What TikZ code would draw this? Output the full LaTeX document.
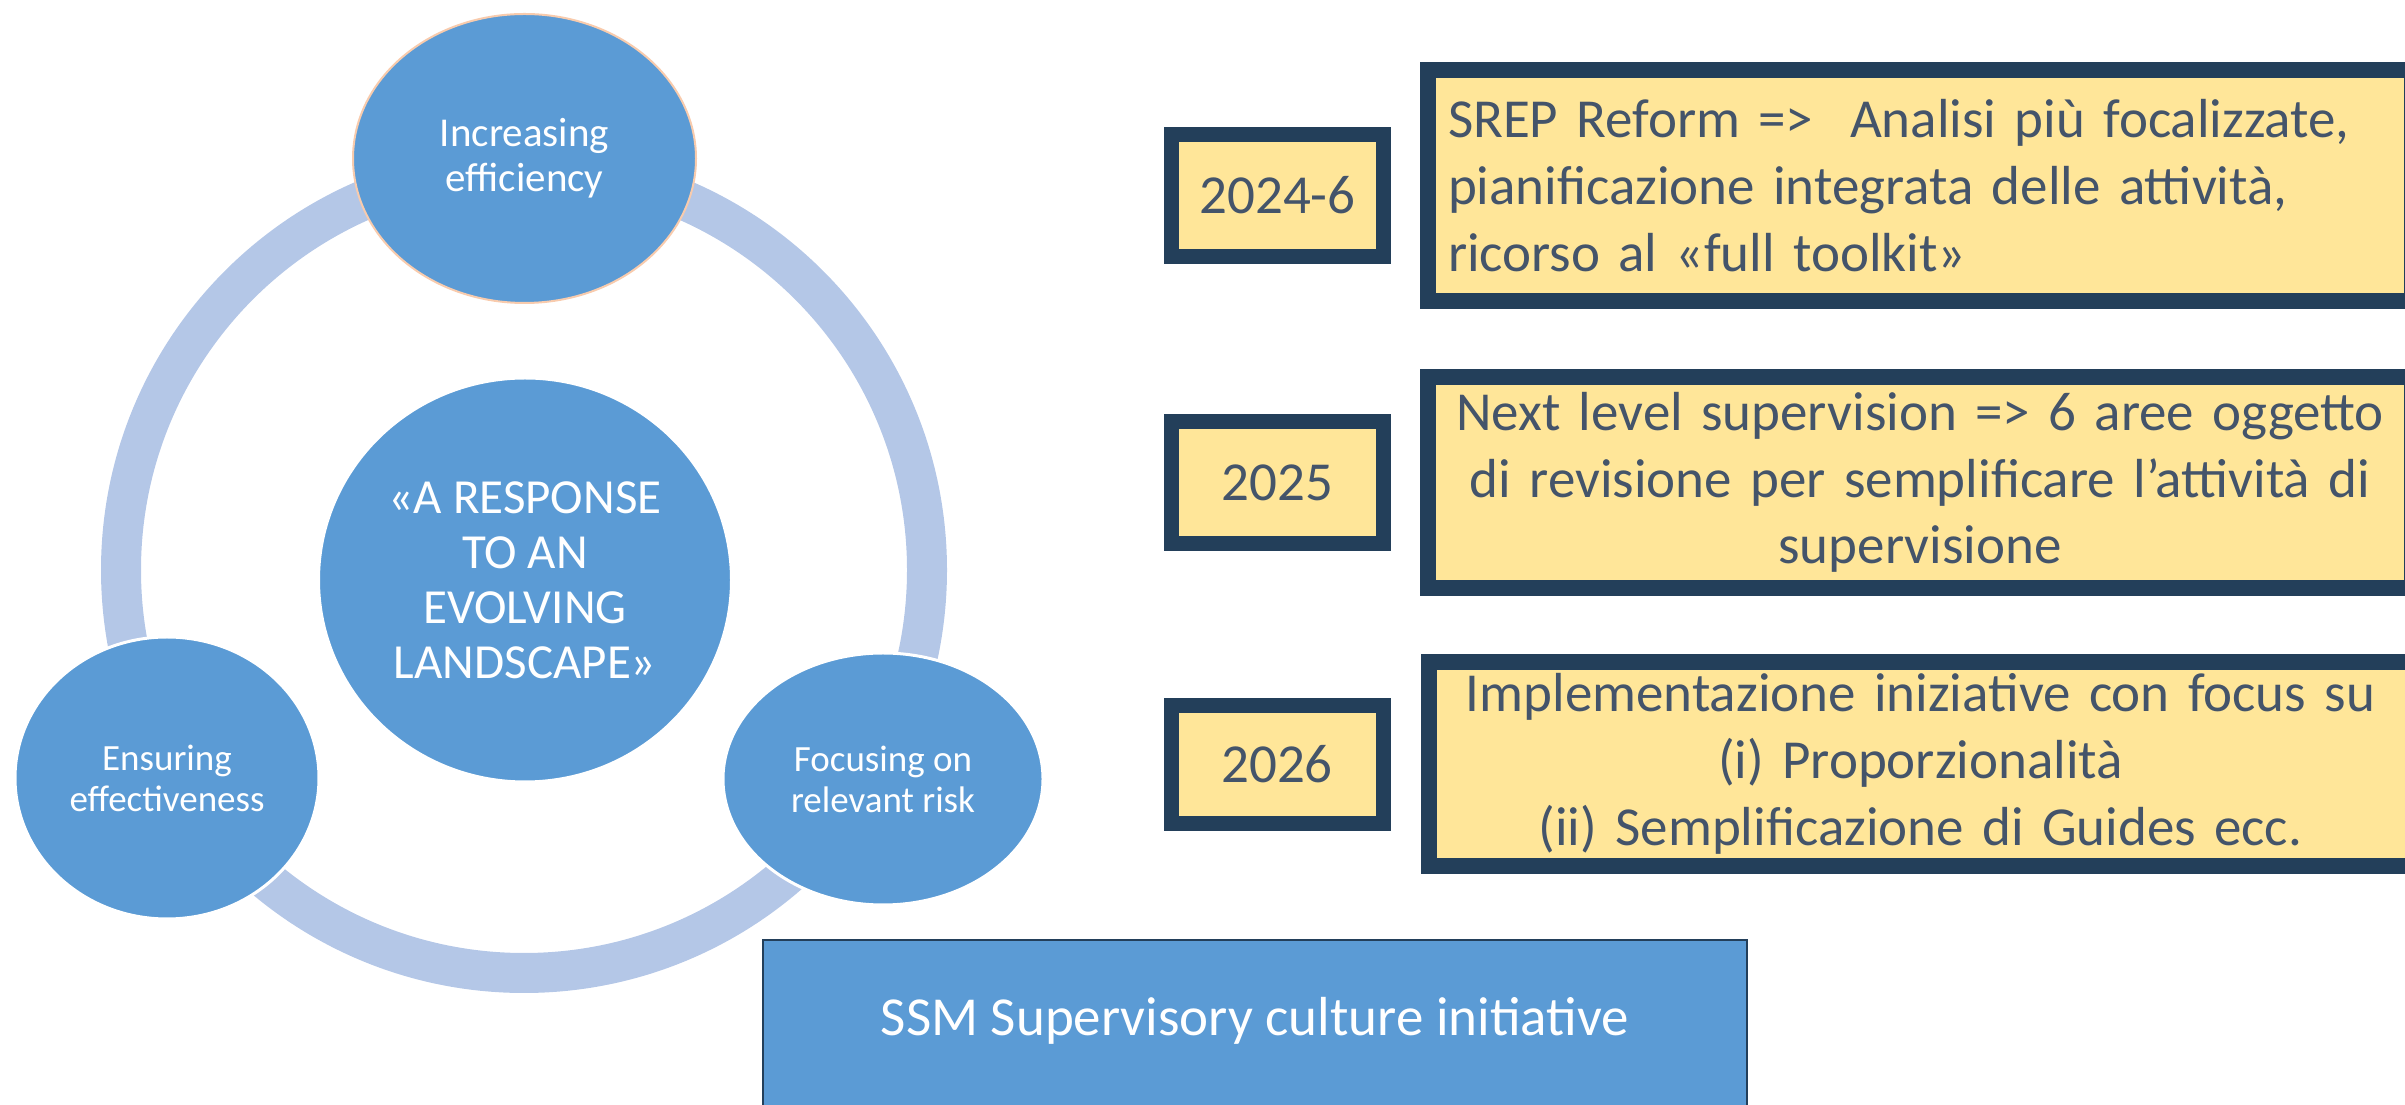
\documentclass[tikz,border=0pt]{standalone}
\usepackage{fontspec}
\setmainfont{Carlito}
\usetikzlibrary{shapes.geometric}

\definecolor{ellblue}{HTML}{5B9BD5}
\definecolor{ringblue}{HTML}{B4C7E7}
\definecolor{navy}{HTML}{233F5A}
\definecolor{gold}{HTML}{FFE699}
\definecolor{slate}{HTML}{44546A}
\definecolor{peach}{HTML}{F8CBAD}

\begin{document}
\begin{tikzpicture}[x=0.3pt, y=-0.3pt,
    cyc/.style = {
      ellipse,
      fill = ellblue,
      draw = white,
      line width = 0.9pt,
      text = white,
      inner sep = 0pt,
      align = center,
      font = \fontsize{11.1}{12.3}\selectfont
    },
    yearbox/.style = {
      rectangle,
      draw = navy,
      line width = 4.5pt,
      fill = gold,
      text = slate,
      minimum width = 63.6pt,
      minimum height = 36.6pt,
      font = \fontsize{16.5}{20}\selectfont
    },
    notebox/.style = {
      rectangle,
      draw = navy,
      line width = 4.8pt,
      fill = gold,
      text = slate,
      text width = 283.2pt,
      inner xsep = 6pt,
      inner ysep = 0pt,
      font = \fontsize{16.5}{20}\selectfont
    }
  ]
  \useasboundingbox (0,0) rectangle (2405,1105);
  \coordinate (C) at (524,570);

  \draw[ringblue, line width=12pt] (C) circle[radius=403];

  \node[cyc, draw=peach, line width=0.6pt, minimum width=102.9pt, minimum height=86.7pt,
    font=\fontsize{12.3}{13.5}\selectfont] (eff) at (524.5,158.5) {Increasing\\efficiency};
  \node[cyc, minimum width=91.2pt, minimum height=84.6pt] (effect) at (167,778) {Ensuring\\effectiveness};
  \node[cyc, minimum width=96pt, minimum height=75.6pt] (risk) at (883,779) {Focusing on\\relevant risk};
  \node[cyc, minimum width=123.9pt, minimum height=121.2pt,
    font=\fontsize{14.7}{16.5}\selectfont] (resp) at (525,580) {«A RESPONSE\\TO AN\\EVOLVING\\LANDSCAPE»};


  \node[yearbox] (y2024) at (1277.5,195.5) {2024-6};
  \node[yearbox] (y2025) at (1277.5,482.5) {2025};
  \node[yearbox, minimum height=35.4pt] (y2026) at (1277,764.5) {2026};

  \node[notebox, align=left, minimum height=69.3pt] (srep) at (1920,185.5)
    {SREP Reform =>\ \ Analisi più focalizzate,\\pianificazione integrata delle attività,\\ricorso al «full toolkit»};
  \node[notebox, align=center, minimum height=63.3pt] (nextlvl) at (1920,482.5)
    {Next level supervision => 6 aree oggetto\\di revisione per semplificare l’attività di\\supervisione};
  \node[notebox, align=center, minimum height=61.2pt] (impl) at (1920.5,764)
    {Implementazione iniziative con focus su\\(i) Proporzionalità\\(ii) Semplificazione di Guides ecc.};


  \node[rectangle, draw=navy, line width=0.75pt, fill=ellblue, text=white, anchor=north,
    minimum width=295.2pt, inner ysep=0pt, text height=28.5pt, text depth=60pt,
    font=\fontsize{16.5}{20}\selectfont] (ssm) at (1255,939) {SSM Supervisory culture initiative};
\end{tikzpicture}
\end{document}
